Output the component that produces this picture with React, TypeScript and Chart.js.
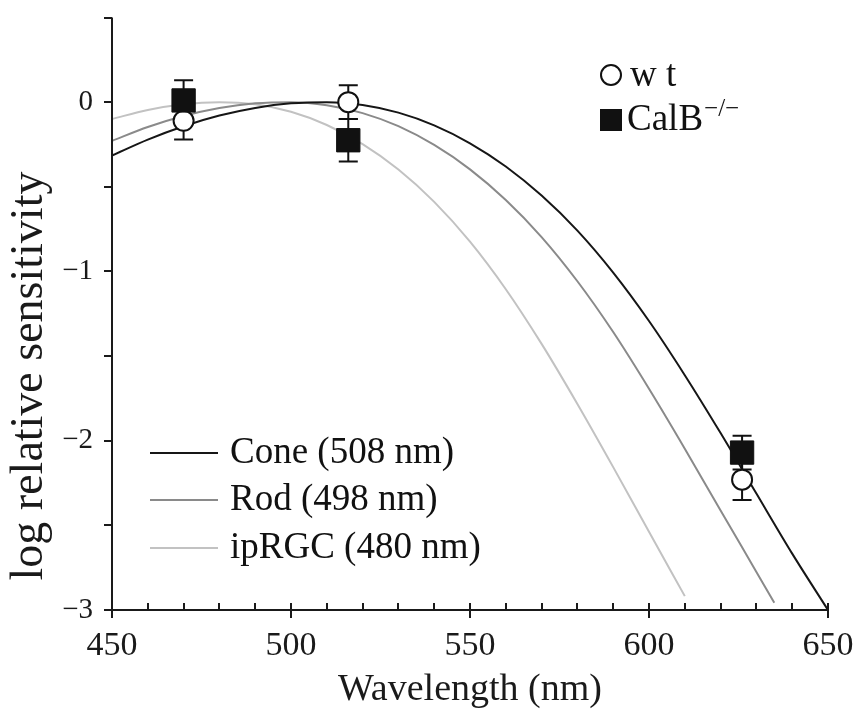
import React, { useEffect, useRef } from "react";
import { Chart, registerables } from "chart.js";

Chart.register(...registerables);

// ---- data ----
const coneWavelengths = [450, 460, 470, 480, 490, 500, 510, 520, 530, 540, 550, 560, 570, 580, 590, 600, 610, 620, 630, 640, 650];
const coneLogSens = [-0.315, -0.221, -0.142, -0.079, -0.034, -0.007, 0, -0.017, -0.062, -0.137, -0.243, -0.38, -0.552, -0.759, -1.007, -1.293, -1.613, -1.955, -2.312, -2.667, -3.0];

const rodWavelengths = [450, 460, 470, 480, 490, 500, 510, 520, 530, 540, 550, 560, 570, 580, 590, 600, 610, 620, 630, 635];
const rodLogSens = [-0.229, -0.147, -0.082, -0.035, -0.007, 0, -0.018, -0.065, -0.142, -0.253, -0.397, -0.578, -0.797, -1.058, -1.358, -1.693, -2.047, -2.412, -2.775, -2.957];

const iprgcWavelengths = [450, 460, 470, 480, 490, 500, 510, 520, 530, 540, 550, 560, 570, 580, 590, 600, 610];
const iprgcLogSens = [-0.1, -0.046, -0.012, 0, -0.013, -0.057, -0.135, -0.248, -0.398, -0.589, -0.824, -1.105, -1.428, -1.783, -2.156, -2.538, -2.918];

const stimWavelengths = [470, 516, 626];
const wtMean = [-0.11, 0.0, -2.23];
const wtErr = [0.11, 0.1, 0.12];
const calbMean = [0.01, -0.225, -2.07];
const calbErr = [0.12, 0.125, 0.1];

const xMajorTicks = [450, 500, 550, 600, 650];
const xMinorStep = 10;
const yTicks = [-3, -2.5, -2, -1.5, -1, -0.5, 0, 0.5];
const yLabelTicks = [0, -1, -2, -3];
const yLabelText = ["0", "\u22121", "\u22122", "\u22123"];

const curveNames = ["Cone (508 nm)", "Rod (498 nm)", "ipRGC (480 nm)"];
const groupNames = ["w t", "CalB"];
const calbSup = "\u2212/\u2212";
const xTitle = "Wavelength (nm)";
const yTitle = "log relative sensitivity";

const SERIF = '"Liberation Serif", "Times New Roman", Times, serif';
const AXIS = "#1a1a1a";
const CONE_C = "#161616";
const ROD_C = "#8a8a8a";
const IPRGC_C = "#c2c2c2";

function toXY(xs: number[], ys: number[]) {
  return xs.map((x, i) => ({ x, y: ys[i] }));
}

const WT_INDEX = 3;

const decorPlugin = {
  id: "decor",
  beforeDatasetDraw(chart: any, args: any) {
    if (args.index !== WT_INDEX) return;
    const ctx = chart.ctx;
    const xs = chart.scales.x;
    const ys = chart.scales.y;
    ctx.save();
    ctx.strokeStyle = "#111";
    ctx.lineWidth = 2;
    const cap = 9.5;
    const drawBar = (wl: number, m: number, e: number) => {
      const px = xs.getPixelForValue(wl);
      const t = ys.getPixelForValue(m + e);
      const b = ys.getPixelForValue(m - e);
      ctx.beginPath();
      ctx.moveTo(px, t);
      ctx.lineTo(px, b);
      ctx.moveTo(px - cap, t);
      ctx.lineTo(px + cap, t);
      ctx.moveTo(px - cap, b);
      ctx.lineTo(px + cap, b);
      ctx.stroke();
    };
    stimWavelengths.forEach((wl, i) => {
      drawBar(wl, wtMean[i], wtErr[i]);
      drawBar(wl, calbMean[i], calbErr[i]);
    });
    ctx.restore();
  },
  afterDraw(chart: any) {
    const ctx = chart.ctx;
    const xs = chart.scales.x;
    const ys = chart.scales.y;
    const { left, right, top, bottom } = chart.chartArea;
    ctx.save();
    ctx.strokeStyle = AXIS;
    ctx.fillStyle = AXIS;
    ctx.lineWidth = 2;
    // axes lines
    ctx.beginPath();
    ctx.moveTo(left, top);
    ctx.lineTo(left, bottom);
    ctx.lineTo(right, bottom);
    ctx.stroke();
    // y ticks (outward)
    ctx.beginPath();
    yTicks.forEach((v) => {
      const py = Math.round(ys.getPixelForValue(v));
      ctx.moveTo(left - 8, py);
      ctx.lineTo(left, py);
    });
    ctx.stroke();
    // x minor ticks (inward) and major ticks (crossing)
    ctx.beginPath();
    for (let v = xs.min; v <= xs.max + 0.001; v += xMinorStep) {
      const px = Math.round(xs.getPixelForValue(v));
      if (xMajorTicks.includes(v)) {
        ctx.moveTo(px, bottom - 7);
        ctx.lineTo(px, bottom + 8);
      } else {
        ctx.moveTo(px, bottom - 7);
        ctx.lineTo(px, bottom);
      }
    }
    ctx.stroke();
    // y tick labels
    ctx.font = `29px ${SERIF}`;
    ctx.textAlign = "right";
    ctx.textBaseline = "middle";
    yLabelTicks.forEach((v, i) => {
      ctx.fillText(yLabelText[i], left - 19, ys.getPixelForValue(v));
    });
    // x tick labels
    ctx.font = `34px ${SERIF}`;
    ctx.textAlign = "center";
    ctx.textBaseline = "alphabetic";
    xMajorTicks.forEach((v) => {
      ctx.fillText(String(v), xs.getPixelForValue(v), bottom + 45);
    });
    // x title
    ctx.font = `38px ${SERIF}`;
    ctx.fillText(xTitle, (left + right) / 2, bottom + 90);
    // y title
    ctx.save();
    ctx.translate(42, 376);
    ctx.rotate(-Math.PI / 2);
    ctx.font = `46px ${SERIF}`;
    ctx.textAlign = "center";
    ctx.textBaseline = "alphabetic";
    ctx.fillText(yTitle, 0, 0);
    ctx.restore();

    // curve legend (bottom-left)
    const curveColors = [CONE_C, ROD_C, IPRGC_C];
    const legY = [453, 500, 548];
    ctx.font = `37px ${SERIF}`;
    ctx.textAlign = "left";
    ctx.textBaseline = "alphabetic";
    curveNames.forEach((name, i) => {
      ctx.strokeStyle = curveColors[i];
      ctx.lineWidth = 2;
      ctx.beginPath();
      ctx.moveTo(150, legY[i]);
      ctx.lineTo(218, legY[i]);
      ctx.stroke();
      ctx.fillStyle = "#111";
      ctx.fillText(name, 230, legY[i] + 10);
    });

    // symbol legend (top-right)
    ctx.strokeStyle = "#111";
    ctx.lineWidth = 2;
    ctx.fillStyle = "#fff";
    ctx.beginPath();
    ctx.arc(611, 75, 10, 0, Math.PI * 2);
    ctx.fill();
    ctx.stroke();
    ctx.fillStyle = "#111";
    ctx.fillRect(600, 109, 22, 22);
    ctx.font = `37px ${SERIF}`;
    ctx.fillText(groupNames[0], 630, 86);
    ctx.fillText(groupNames[1], 627, 130);
    const w = ctx.measureText(groupNames[1]).width;
    ctx.font = `25px ${SERIF}`;
    ctx.fillText(calbSup, 627 + w + 1, 116);
    ctx.restore();
  },
};

export default function App() {
  const ref = useRef<HTMLCanvasElement | null>(null);
  useEffect(() => {
    if (!ref.current) return;
    const chart = new Chart(ref.current, {
      type: "line",
      data: {
        datasets: [
          {
            label: curveNames[0],
            data: toXY(coneWavelengths, coneLogSens),
            borderColor: CONE_C,
            borderWidth: 2,
            pointRadius: 0,
            cubicInterpolationMode: "monotone",
            order: 10,
          },
          {
            label: curveNames[1],
            data: toXY(rodWavelengths, rodLogSens),
            borderColor: ROD_C,
            borderWidth: 2,
            pointRadius: 0,
            cubicInterpolationMode: "monotone",
            order: 11,
          },
          {
            label: curveNames[2],
            data: toXY(iprgcWavelengths, iprgcLogSens),
            borderColor: IPRGC_C,
            borderWidth: 2,
            pointRadius: 0,
            cubicInterpolationMode: "monotone",
            order: 12,
          },
          {
            type: "scatter",
            label: groupNames[0],
            data: toXY(stimWavelengths, wtMean),
            pointStyle: "circle",
            pointRadius: 10,
            pointBorderWidth: 2,
            pointBackgroundColor: "#fff",
            pointBorderColor: "#111",
            showLine: false,
            order: 5,
          },
          {
            type: "scatter",
            label: groupNames[1],
            data: toXY(stimWavelengths, calbMean),
            pointStyle: "rect",
            pointRadius: 16.5,
            pointBorderWidth: 1,
            pointBackgroundColor: "#111",
            pointBorderColor: "#111",
            showLine: false,
            order: 1,
          },
        ] as any,
      },
      options: {
        animation: false,
        responsive: false,
        events: [],
        layout: { padding: { left: 112, right: 38, top: 11, bottom: 99 } },
        plugins: { legend: { display: false }, tooltip: { enabled: false } },
        scales: {
          x: { type: "linear", min: 450, max: 650, display: false },
          y: { type: "linear", min: -3, max: 0.5, display: false },
        },
      },
      plugins: [decorPlugin],
    });
    return () => chart.destroy();
  }, []);
  return (
    <div style={{ position: "fixed", left: 0, top: 0, width: 866, height: 709, background: "#fff" }}>
      <canvas ref={ref} width={866} height={709} style={{ display: "block" }} />
    </div>
  );
}
